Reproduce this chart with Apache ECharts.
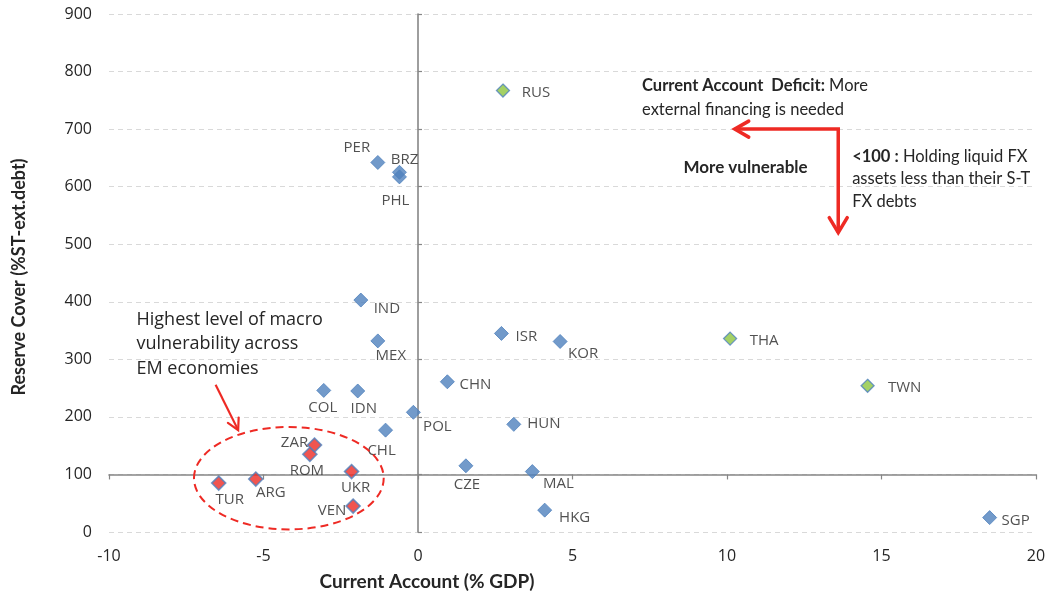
<!DOCTYPE html>
<html>
<head>
<meta charset="utf-8">
<script src="https://cdn.jsdelivr.net/npm/echarts@6/dist/echarts.min.js"></script>
<style>
  html, body { margin: 0; padding: 0; background: #ffffff; }
  #chart { width: 1053px; height: 593px; }
</style>
</head>
<body>
<div id="chart"></div>
<script>
// Emerging-market vulnerability: current account balance vs. reserve cover of short-term external debt
const countries = ['PER', 'BRZ', 'PHL', 'IND', 'MEX', 'COL', 'IDN', 'POL', 'CHL', 'CHN', 'ISR', 'KOR', 'HUN', 'CZE', 'MAL', 'HKG', 'SGP',
                   'ZAR', 'ROM', 'UKR', 'VEN', 'TUR', 'ARG',
                   'RUS', 'THA', 'TWN'];
const currentAccount = [-1.3, -0.6, -0.6, -1.85, -1.3, -3.05, -1.95, -0.15, -1.05, 0.95, 2.7, 4.6, 3.1, 1.55, 3.7, 4.1, 18.5,
                        -3.35, -3.5, -2.15, -2.1, -6.45, -5.25,
                        2.75, 10.1, 14.55];
const reserveCover = [642, 625, 617, 403, 332, 246, 245, 208, 177, 261, 345, 331, 187, 115, 105, 38, 25,
                      151, 135, 105, 45, 85, 92,
                      767, 336, 254];
const groups = ['core', 'core', 'core', 'core', 'core', 'core', 'core', 'core', 'core', 'core', 'core', 'core', 'core', 'core', 'core', 'core', 'core',
                'vulnerable', 'vulnerable', 'vulnerable', 'vulnerable', 'vulnerable', 'vulnerable',
                'highlight', 'highlight', 'highlight'];

// Axis ranges
const xRange = [-10, 20, 5];
const yRange = [0, 900, 100];
const thresholdReserve = 100;

// Label placement around each marker (pixels, relative to marker centre)
const labelOffset = {
  RUS: [33, 2], PER: [-21, -15], BRZ: [5, -13], PHL: [-4, 24], IND: [26, 9], MEX: [13, 15],
  COL: [-1, 17], IDN: [6, 18], POL: [24, 14], CHL: [-4, 21], ZAR: [-20, -2], ROM: [-3, 16],
  UKR: [4, 16], VEN: [-21, 5], TUR: [11, 17], ARG: [15, 14], ISR: [25, 3], KOR: [23, 12],
  CHN: [28, 3], HUN: [30, -1], CZE: [1, 19], MAL: [26, 12], HKG: [30, 8], THA: [34, 2],
  TWN: [37, 2], SGP: [26, 3]
};

const groupStyle = {
  core:       { size: 14, itemStyle: { color: '#4F81BD', borderColor: '#4F81BD', borderWidth: 1 } },
  vulnerable: { size: 14, itemStyle: { color: '#EE2A24', borderColor: '#4F81BD', borderWidth: 1.6 } },
  highlight:  { size: 13, itemStyle: { color: '#8DC63F', borderColor: '#4F81BD', borderWidth: 1.3 } }
};

const LABEL_FONT = '"Open Sans", "DejaVu Sans", sans-serif';
const NOTE_FONT = 'Lato, "Open Sans", sans-serif';
const TEXT = '#262626';

function buildSeries(group) {
  const data = [];
  countries.forEach((c, i) => {
    if (groups[i] !== group) return;
    data.push({
      name: c,
      value: [currentAccount[i], reserveCover[i]],
      label: { offset: labelOffset[c] }
    });
  });
  const st = groupStyle[group];
  return {
    type: 'scatter',
    name: group,
    xAxisIndex: 0,
    yAxisIndex: 0,
    symbol: 'diamond',
    symbolSize: st.size,
    itemStyle: st.itemStyle,
    z: group === 'core' ? 3 : 4,
    label: {
      show: true,
      position: 'inside',
      formatter: '{b}',
      color: TEXT,
      fontFamily: LABEL_FONT,
      fontSize: 15,
      align: 'center',
      verticalAlign: 'middle'
    },
    emphasis: { disabled: true },
    data
  };
}

const chart = echarts.init(document.getElementById('chart'), null, { renderer: 'canvas' });

const axisGray = '#868686';

const option = {
  animation: false,
  backgroundColor: '#ffffff',
  grid: { left: 109, right: 17, top: 14, bottom: 61 },
  xAxis: [
    {
      // labelled axis along the bottom of the plot
      type: 'value', min: xRange[0], max: xRange[1], interval: xRange[2], position: 'bottom',
      axisLine: { show: false }, axisTick: { show: false }, splitLine: { show: false },
      axisLabel: { color: TEXT, fontFamily: LABEL_FONT, fontSize: 16, margin: 16 }
    },
    {
      // axis line crossing at the 100% reserve-cover threshold
      type: 'value', min: xRange[0], max: xRange[1], interval: xRange[2], position: 'bottom',
      axisLine: { show: true, onZero: true, onZeroAxisIndex: 1, lineStyle: { color: axisGray, width: 1.6 } },
      axisTick: { show: true, length: 5, lineStyle: { color: axisGray, width: 1.2 } },
      axisLabel: { show: false }, splitLine: { show: false }
    }
  ],
  yAxis: [
    {
      type: 'value', min: yRange[0], max: yRange[1], interval: yRange[2], position: 'left',
      axisLine: { show: false }, axisTick: { show: false },
      axisLabel: { color: TEXT, fontFamily: LABEL_FONT, fontSize: 16, margin: 17 },
      splitLine: { show: true, lineStyle: { color: '#D9D9D9', width: 1, type: [5, 4] } }
    },
    {
      // shifted scale so that its zero sits at the threshold, vertical axis line at CA = 0
      type: 'value', min: yRange[0] - thresholdReserve, max: yRange[1] - thresholdReserve, interval: yRange[2], position: 'left',
      axisLine: { show: true, onZero: true, onZeroAxisIndex: 0, lineStyle: { color: axisGray, width: 1.6 } },
      axisTick: { show: true, inside: true, length: 4, lineStyle: { color: axisGray, width: 1.2 } },
      axisLabel: { show: false }, splitLine: { show: false }
    }
  ],
  series: [buildSeries('core'), buildSeries('vulnerable'), buildSeries('highlight')]
};

chart.setOption(option);

// Annotations anchored in data coordinates
const px = (x, y) => chart.convertToPixel({ xAxisIndex: 0, yAxisIndex: 0 }, [x, y]);
const RED = '#EE2A24';

function arrowHead(tip, from, len, half, width) {
  const dx = tip[0] - from[0], dy = tip[1] - from[1];
  const L = Math.hypot(dx, dy);
  const ux = dx / L, uy = dy / L;
  const bx = tip[0] - ux * len, by = tip[1] - uy * len;
  return {
    type: 'polyline',
    shape: { points: [[bx - uy * half, by + ux * half], tip, [bx + uy * half, by - ux * half]] },
    style: { stroke: RED, lineWidth: width, fill: null, lineJoin: 'miter', lineCap: 'round' },
    z: 10
  };
}

const corner = px(13.6, 700);
const leftTip = px(10.25, 700);
const downTip = px(13.6, 520);
const smallFrom = px(-6.55, 256);
const smallTip = px(-5.82, 177);
const ellC = px(-4.18, 93.5);
const ellR = px(-4.18 + 3.07, 93.5 - 89);

const deficitAnchor = px(7.25, 775);
const vulnAnchor = px(10.6, 634);
const belowAnchor = px(14.05, 653);
const macroAnchor = px(-9.11, 369);

const noteRich = (size, lh) => ({
  b: { fontFamily: NOTE_FONT, fontSize: size, fontWeight: 'bold', fill: TEXT, lineHeight: lh },
  n: { fontFamily: NOTE_FONT, fontSize: size, fill: TEXT, lineHeight: lh }
});

chart.setOption({
  graphic: [
    { type: 'polyline', shape: { points: [leftTip, corner, downTip] },
      style: { stroke: RED, lineWidth: 3.5, fill: null, lineJoin: 'miter' }, z: 10 },
    arrowHead(leftTip, corner, 14, 8, 3.5),
    arrowHead(downTip, corner, 15, 9, 3.5),
    { type: 'line', shape: { x1: smallFrom[0], y1: smallFrom[1], x2: smallTip[0], y2: smallTip[1] },
      style: { stroke: RED, lineWidth: 2.2 }, z: 10 },
    arrowHead(smallTip, smallFrom, 11, 6, 2.2),
    { type: 'ellipse', shape: { cx: ellC[0], cy: ellC[1], rx: ellR[0] - ellC[0], ry: ellR[1] - ellC[1] },
      style: { stroke: RED, lineWidth: 2, fill: null, lineDash: [8, 5] }, z: 9 },
    { type: 'text', x: deficitAnchor[0], y: deficitAnchor[1] - 12, z: 11,
      style: {
        text: '{b|Current Account  Deficit:}{n| More}\n{n|external financing is needed}',
        rich: noteRich(16.5, 24),
        align: 'left', verticalAlign: 'top'
      } },
    { type: 'text', x: vulnAnchor[0], y: vulnAnchor[1], z: 11,
      style: { text: 'More vulnerable', fontFamily: NOTE_FONT, fontSize: 17, fontWeight: 'bold', fill: TEXT,
               align: 'center', verticalAlign: 'middle' } },
    { type: 'text', x: belowAnchor[0], y: belowAnchor[1] - 11, z: 11,
      style: {
        text: '{b|<100 :}{n| Holding liquid FX}\n{n|assets less than their S-T}\n{n|FX debts}',
        rich: noteRich(16.5, 22.5),
        align: 'left', verticalAlign: 'top'
      } },
    { type: 'text', x: macroAnchor[0], y: macroAnchor[1] - 12.3, z: 11,
      style: { text: 'Highest level of macro\nvulnerability across\nEM economies', fontFamily: LABEL_FONT, fontSize: 18,
               lineHeight: 24.6, fill: TEXT, align: 'left', verticalAlign: 'top' } },
    { type: 'text', x: 427, y: 582, z: 11,
      style: { text: 'Current Account (% GDP)', fontFamily: NOTE_FONT, fontSize: 19, fontWeight: 'bold', fill: TEXT,
               align: 'center', verticalAlign: 'middle' } },
    { type: 'text', x: 19, y: 277, rotation: Math.PI / 2, z: 11,
      style: { text: 'Reserve Cover (%ST-ext.debt)', fontFamily: NOTE_FONT, fontSize: 18, fontWeight: 'bold', fill: TEXT,
               align: 'center', verticalAlign: 'middle' } }
  ]
});
</script>
</body>
</html>
